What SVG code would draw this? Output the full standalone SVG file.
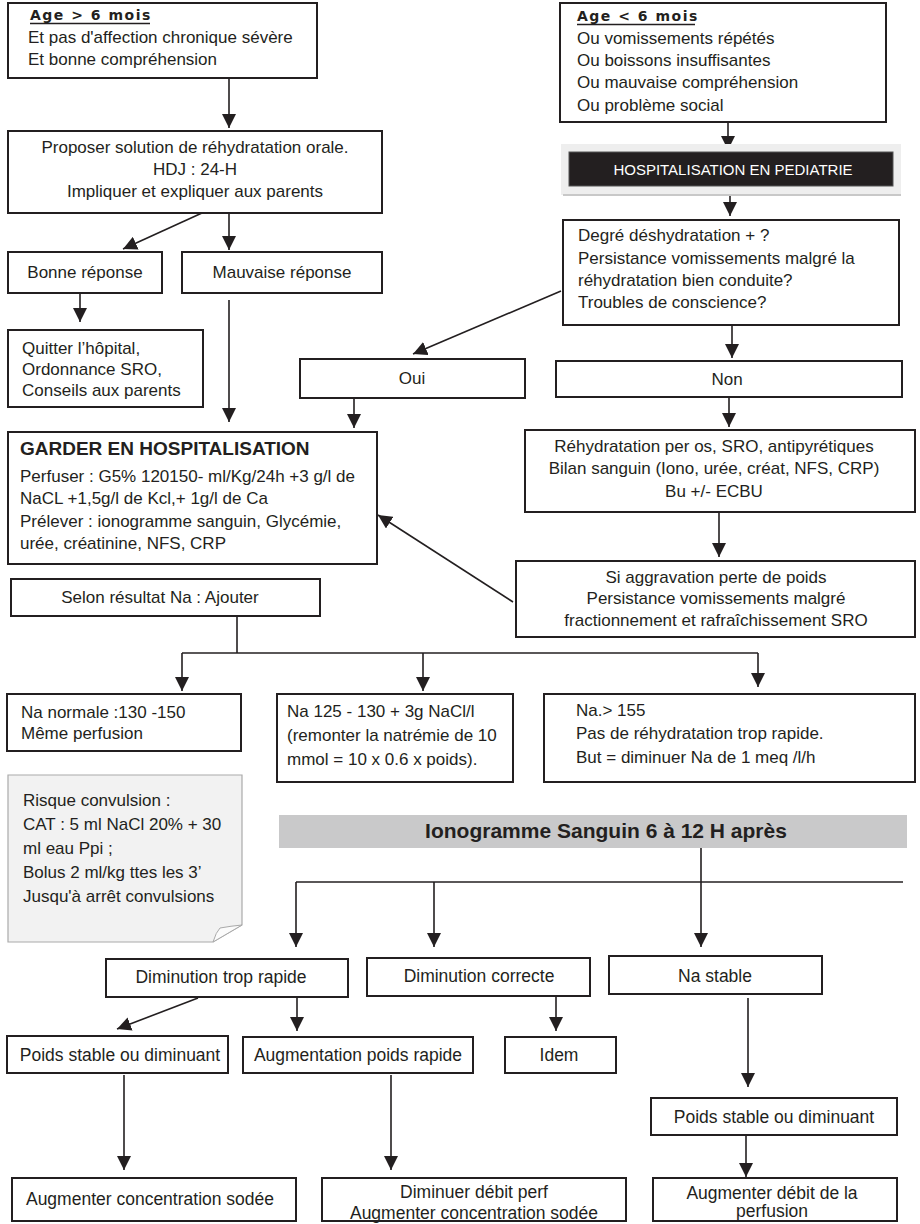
<svg xmlns="http://www.w3.org/2000/svg" width="920" height="1224" viewBox="0 0 920 1224">
<style>
.box{fill:#fff;stroke:#231f20;stroke-width:2}
.t{font-family:"Liberation Sans",Arial,sans-serif;font-size:17px;fill:#231f20}
.tb{font-size:17.5px}
.c{text-anchor:middle}
.h{font-family:"DejaVu Sans",Verdana,sans-serif;font-weight:bold;font-size:14px;letter-spacing:1.5px;fill:#231f20}
.ln{stroke:#231f20;stroke-width:1.6;fill:none}
.a{marker-end:url(#ah)}
</style>
<defs>
<marker id="ah" markerUnits="userSpaceOnUse" markerWidth="14" markerHeight="14" viewBox="0 0 14 14" refX="14" refY="7" orient="auto">
<path d="M0,0 L14,7 L0,14 Z" fill="#231f20"/>
</marker>
</defs>
<g id="connectors">
<line class="ln a" x1="229" y1="78" x2="229" y2="128"/>
<line class="ln a" x1="202" y1="213" x2="123" y2="249"/>
<line class="ln a" x1="229" y1="213" x2="229" y2="250"/>
<line class="ln a" x1="80" y1="293" x2="80" y2="322"/>
<line class="ln a" x1="229" y1="300" x2="229" y2="422"/>
<line class="ln a" x1="561" y1="291" x2="413" y2="354"/>
<line class="ln a" x1="354" y1="398" x2="354" y2="428"/>
<line class="ln a" x1="728" y1="122" x2="728" y2="150"/>
<line class="ln a" x1="730" y1="195" x2="730" y2="216"/>
<line class="ln a" x1="732" y1="325" x2="732" y2="358"/>
<line class="ln a" x1="729" y1="397" x2="729" y2="427"/>
<line class="ln a" x1="719" y1="512" x2="719" y2="557"/>
<line class="ln a" x1="513" y1="602" x2="378" y2="515"/>
<line class="ln" x1="237" y1="616" x2="237" y2="653"/>
<line class="ln" x1="182" y1="653" x2="758" y2="653"/>
<line class="ln a" x1="182" y1="653" x2="182" y2="691"/>
<line class="ln a" x1="423" y1="653" x2="423" y2="691"/>
<line class="ln a" x1="758" y1="653" x2="758" y2="687"/>
<line class="ln a" x1="701" y1="848" x2="701" y2="947"/>
<line class="ln" x1="296" y1="882" x2="903" y2="882"/>
<line class="ln a" x1="296" y1="882" x2="296" y2="947"/>
<line class="ln a" x1="434" y1="882" x2="434" y2="947"/>
<line class="ln a" x1="198" y1="998" x2="117" y2="1029"/>
<line class="ln a" x1="297" y1="997" x2="297" y2="1031"/>
<line class="ln a" x1="556" y1="996" x2="556" y2="1031"/>
<line class="ln a" x1="748" y1="998" x2="748" y2="1087"/>
<line class="ln a" x1="746" y1="1135" x2="746" y2="1177"/>
<line class="ln a" x1="124" y1="1075" x2="124" y2="1170"/>
<line class="ln a" x1="391" y1="1075" x2="391" y2="1170"/>
</g>
<g id="n1">
<rect class="box" x="8" y="3" width="309" height="75"/>
<text class="h" x="30" y="20">Age &gt; 6 mois</text>
<line x1="30" y1="23.5" x2="150" y2="23.5" stroke="#231f20" stroke-width="1.3"/>
<text class="t" x="28" y="43">Et pas d'affection chronique sévère</text>
<text class="t" x="28" y="65">Et bonne compréhension</text>
</g>
<g id="n2">
<rect class="box" x="8" y="131" width="374" height="82"/>
<text class="t c" x="195" y="153">Proposer solution de réhydratation orale.</text>
<text class="t c" x="195" y="175">HDJ : 24-H</text>
<text class="t c" x="195" y="197">Impliquer et expliquer aux parents</text>
</g>
<g id="n3">
<rect class="box" x="8" y="252" width="154" height="41"/>
<text class="t c" x="85" y="278">Bonne réponse</text>
</g>
<g id="n4">
<rect class="box" x="182" y="252" width="200" height="41"/>
<text class="t c" x="282" y="278">Mauvaise réponse</text>
</g>
<g id="n5">
<rect class="box" x="8" y="330" width="195" height="77"/>
<text class="t" x="22" y="354">Quitter l’hôpital,</text>
<text class="t" x="22" y="375">Ordonnance SRO,</text>
<text class="t" x="22" y="396">Conseils aux parents</text>
</g>
<g id="n6">
<rect class="box" x="8" y="432" width="369" height="132"/>
<text class="t" x="20" y="455" style="font-weight:bold;font-size:19px">GARDER EN HOSPITALISATION</text>
<text class="t" x="20" y="482">Perfuser : G5% 120150- ml/Kg/24h +3 g/l de</text>
<text class="t" x="20" y="504">NaCL +1,5g/l de Kcl,+ 1g/l de Ca</text>
<text class="t" x="20" y="527">Prélever : ionogramme sanguin, Glycémie,</text>
<text class="t" x="20" y="549">urée, créatinine, NFS, CRP</text>
</g>
<g id="n7">
<rect class="box" x="11" y="579" width="309" height="37"/>
<text class="t c" x="160" y="603">Selon résultat Na : Ajouter</text>
</g>
<g id="n8">
<rect class="box" x="560" y="3" width="326" height="119"/>
<text class="h" x="577" y="21">Age &lt; 6 mois</text>
<line x1="577" y1="24.5" x2="695" y2="24.5" stroke="#231f20" stroke-width="1.3"/>
<text class="t" x="577" y="44">Ou vomissements répétés</text>
<text class="t" x="577" y="66">Ou boissons insuffisantes</text>
<text class="t" x="577" y="88">Ou mauvaise compréhension</text>
<text class="t" x="577" y="111">Ou problème social</text>
</g>
<g id="n9">
<rect x="561" y="144" width="340" height="51" fill="#eeeeee"/>
<line x1="563" y1="195" x2="901" y2="195" stroke="#c8c8c8" stroke-width="2"/>
<rect x="569" y="152" width="324" height="34" fill="#231f20" stroke="#555" stroke-width="1"/>
<text class="t c" x="733" y="175" style="fill:#fff;font-size:15px">HOSPITALISATION EN PEDIATRIE</text>
</g>
<g id="n10">
<rect class="box" x="563" y="220" width="336" height="105"/>
<text class="t" x="578" y="241">Degré déshydratation + ?</text>
<text class="t" x="578" y="264">Persistance vomissements malgré la</text>
<text class="t" x="578" y="286">réhydratation bien conduite?</text>
<text class="t" x="578" y="308">Troubles de conscience?</text>
</g>
<g id="n11">
<rect class="box" x="300" y="359" width="225" height="39"/>
<text class="t c" x="412" y="384">Oui</text>
</g>
<g id="n12">
<rect class="box" x="556" y="361" width="346" height="36"/>
<text class="t c" x="727" y="385">Non</text>
</g>
<g id="n13">
<rect class="box" x="525" y="430" width="390" height="82"/>
<text class="t c" x="714" y="452">Réhydratation per os, SRO, antipyrétiques</text>
<text class="t c" x="714" y="474">Bilan sanguin (Iono, urée, créat, NFS, CRP)</text>
<text class="t c" x="714" y="497">Bu +/- ECBU</text>
</g>
<g id="n14">
<rect class="box" x="516" y="561" width="399" height="76"/>
<text class="t c" x="716" y="583">Si aggravation perte de poids</text>
<text class="t c" x="716" y="604">Persistance vomissements malgré</text>
<text class="t c" x="716" y="626">fractionnement et rafraîchissement SRO</text>
</g>
<g id="n15">
<rect class="box" x="7" y="694" width="234" height="57"/>
<text class="t" x="21" y="718">Na normale :130 -150</text>
<text class="t" x="21" y="739">Même perfusion</text>
</g>
<g id="n16">
<rect class="box" x="277" y="694" width="236" height="88"/>
<text class="t" x="287" y="717">Na 125 - 130 + 3g NaCl/l</text>
<text class="t" x="287" y="741">(remonter la natrémie de 10</text>
<text class="t" x="287" y="765">mmol = 10 x 0.6 x poids).</text>
</g>
<g id="n17">
<rect class="box" x="544" y="694" width="371" height="88"/>
<text class="t" x="576" y="716">Na.&gt; 155</text>
<text class="t" x="576" y="739">Pas de réhydratation trop rapide.</text>
<text class="t" x="576" y="763">But = diminuer Na de 1 meq /l/h</text>
</g>
<g id="n18">
<path d="M8,775 H242 V925 L213,942 H8 Z" fill="#f2f2f2" stroke="#aaaaaa" stroke-width="1.2"/>
<path d="M213,942 Q216,932 220,928 Q231,926 242,925 Z" fill="#fbfbfb" stroke="#aaaaaa" stroke-width="1"/>
<text class="t" x="23" y="806">Risque convulsion :</text>
<text class="t" x="23" y="830">CAT : 5 ml NaCl 20% + 30</text>
<text class="t" x="23" y="854">ml eau Ppi ;</text>
<text class="t" x="23" y="878">Bolus 2 ml/kg ttes les 3’</text>
<text class="t" x="23" y="902">Jusqu'à arrêt convulsions</text>
</g>
<g id="n19">
<rect x="279" y="815" width="628" height="33" fill="#c9c9ca"/>
<text class="t c" x="606" y="838" style="font-weight:bold;font-size:21px">Ionogramme Sanguin 6 à 12 H après</text>
</g>
<g id="n20">
<rect class="box" x="106" y="959" width="242" height="38"/>
<text class="t tb c" x="221" y="983">Diminution trop rapide</text>
</g>
<g id="n21">
<rect class="box" x="367" y="958" width="223" height="38"/>
<text class="t tb c" x="479" y="982">Diminution correcte</text>
</g>
<g id="n22">
<rect class="box" x="609" y="956" width="213" height="38"/>
<text class="t tb c" x="715" y="982">Na stable</text>
</g>
<g id="n23">
<rect class="box" x="7" y="1036" width="221" height="37"/>
<text class="t tb c" x="120" y="1061">Poids stable ou diminuant</text>
</g>
<g id="n24">
<rect class="box" x="243" y="1037" width="230" height="36"/>
<text class="t tb c" x="358" y="1061">Augmentation poids rapide</text>
</g>
<g id="n25">
<rect class="box" x="505" y="1037" width="111" height="36"/>
<text class="t tb c" x="559" y="1061">Idem</text>
</g>
<g id="n26">
<rect class="box" x="651" y="1098" width="246" height="37"/>
<text class="t tb c" x="774" y="1123">Poids stable ou diminuant</text>
</g>
<g id="n27">
<rect class="box" x="12" y="1178" width="284" height="43"/>
<text class="t tb c" x="150" y="1205">Augmenter concentration sodée</text>
</g>
<g id="n28">
<rect class="box" x="322" y="1178" width="304" height="43"/>
<text class="t tb c" x="474" y="1198">Diminuer débit perf</text>
<text class="t tb c" x="474" y="1219">Augmenter concentration sodée</text>
</g>
<g id="n29">
<rect class="box" x="653" y="1178" width="244" height="43"/>
<text class="t tb c" x="772" y="1199">Augmenter débit de la</text>
<text class="t tb c" x="772" y="1217">perfusion</text>
</g>
</svg>
